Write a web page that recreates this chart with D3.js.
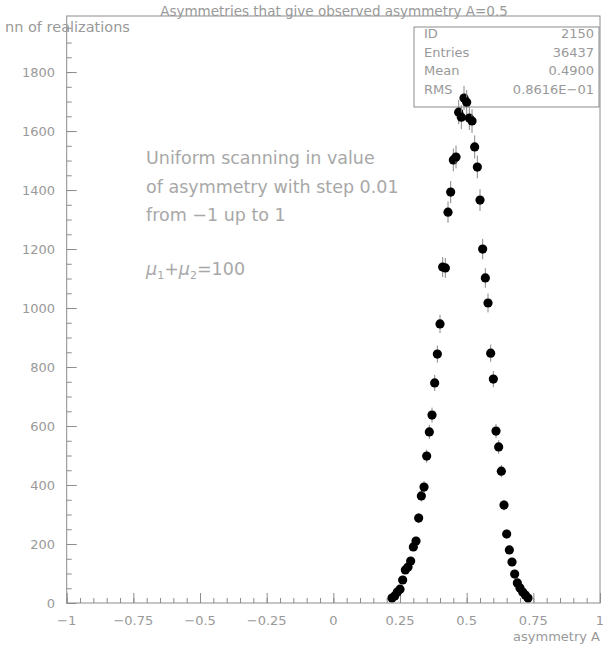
<!DOCTYPE html>
<html>
<head>
<meta charset="utf-8">
<script src="https://cdn.jsdelivr.net/npm/d3@7"></script>
<style>
  body { margin: 0; background: #fff; }
  text { font-family: "DejaVu Sans", sans-serif; fill: #999; }
</style>
</head>
<body>
<svg id="chart" width="603" height="645"></svg>
<script>
// scanned asymmetry values (bin positions) and number of realizations
const asym = [0.22, 0.23, 0.24, 0.25, 0.26, 0.27, 0.28, 0.29, 0.30, 0.31,
  0.32, 0.33, 0.34, 0.35, 0.36, 0.37, 0.38, 0.39, 0.40, 0.41,
  0.42, 0.43, 0.44, 0.45, 0.46, 0.47, 0.48, 0.49, 0.50, 0.51,
  0.52, 0.53, 0.54, 0.55, 0.56, 0.57, 0.58, 0.59, 0.60, 0.61,
  0.62, 0.63, 0.64, 0.65, 0.66, 0.67, 0.68, 0.69, 0.70, 0.71,
  0.72, 0.73];
const counts = [17, 24, 37, 47, 78, 112, 122, 142, 190, 210,
  288, 363, 393, 498, 580, 637, 746, 844, 946, 1139,
  1136, 1325, 1393, 1502, 1512, 1664, 1647, 1712, 1698, 1644,
  1634, 1546, 1478, 1366, 1200, 1102, 1017, 847, 759, 583,
  529, 447, 332, 234, 180, 139, 98, 68, 51, 37,
  27, 17];

const xTicks = [-1, -0.75, -0.5, -0.25, 0, 0.25, 0.5, 0.75, 1];
const xTickLabels = ["\u22121", "\u22120.75", "\u22120.5", "\u22120.25", "0", "0.25", "0.5", "0.75", "1"];
const yTicks = [0, 200, 400, 600, 800, 1000, 1200, 1400, 1600, 1800];

const statNames = ["ID", "Entries", "Mean", "RMS"];
const statValues = ["2150", "36437", "0.4900", "0.8616E\u221201"];

const noteLines = ["Uniform scanning in value", "of asymmetry with step 0.01", "from \u22121 up to 1"];

const svg = d3.select("#chart");
const axisColor = "#8c8c8c";

const x = d3.scaleLinear().domain([-1, 1]).range([66.7, 600]);
const y = d3.scaleLinear().domain([0, 1990]).range([603, 16]);

// frame
svg.append("rect")
  .attr("x", x(-1)).attr("y", y(1990))
  .attr("width", x(1) - x(-1)).attr("height", y(0) - y(1990))
  .attr("fill", "none").attr("stroke", axisColor).attr("stroke-width", 1);

// x axis ticks (inside, pointing up)
const gx = svg.append("g").attr("transform", `translate(0,${y(0)})`);
gx.call(d3.axisTop(x).tickValues(d3.range(-1, 1.0001, 0.05)).tickSize(5).tickFormat(""));
gx.append("g").call(d3.axisTop(x).tickValues(xTicks).tickSize(10).tickFormat(""));
gx.selectAll(".domain").remove();
gx.selectAll("line").attr("stroke", axisColor);
svg.append("g").selectAll("text").data(xTicks).join("text")
  .attr("x", d => x(d)).attr("y", 625)
  .attr("text-anchor", "middle").attr("font-size", 13)
  .text((d, i) => xTickLabels[i]);

// y axis ticks (inside, pointing right)
const gy = svg.append("g").attr("transform", `translate(${x(-1)},0)`);
gy.call(d3.axisRight(y).tickValues(d3.range(0, 1951, 50)).tickSize(5).tickFormat(""));
gy.append("g").call(d3.axisRight(y).tickValues(yTicks).tickSize(10).tickFormat(""));
gy.selectAll(".domain").remove();
gy.selectAll("line").attr("stroke", axisColor);
svg.append("g").selectAll("text").data(yTicks).join("text")
  .attr("x", 55).attr("y", d => y(d) + 5)
  .attr("text-anchor", "end").attr("font-size", 13)
  .text(d => d);

// titles
svg.append("text").attr("x", 334).attr("y", 16).attr("text-anchor", "middle")
  .attr("font-size", 13.5).text("Asymmetries that give observed asymmetry A=0.5");
svg.append("text").attr("x", 5).attr("y", 32).attr("font-size", 14.5)
  .text("nn of realizations");
svg.append("text").attr("x", 600).attr("y", 641).attr("text-anchor", "end")
  .attr("font-size", 13).text("asymmetry A");

// stats box
svg.append("rect").attr("x", 414).attr("y", 27).attr("width", 185).attr("height", 80)
  .attr("fill", "#fff").attr("stroke", axisColor);
const stats = svg.append("g");
stats.selectAll("text.n").data(statNames).join("text").attr("class", "n")
  .attr("x", 424).attr("y", (d, i) => 38 + i * 18.7).attr("font-size", 13).text(d => d);
stats.selectAll("text.v").data(statValues).join("text").attr("class", "v")
  .attr("x", 594).attr("y", (d, i) => 38 + i * 18.7).attr("text-anchor", "end")
  .attr("font-size", 13).text(d => d);

// annotation
svg.append("g").selectAll("text").data(noteLines).join("text")
  .attr("x", 146).attr("y", (d, i) => 164 + i * 28.7)
  .attr("font-size", 17.5).style("fill", "#a8a8a8").text(d => d);
const mu = svg.append("text").attr("x", 146).attr("y", 275).attr("font-size", 17.5).style("fill", "#a8a8a8");
mu.append("tspan").attr("font-style", "italic").text("\u03bc");
mu.append("tspan").attr("font-size", 11).attr("dy", 4).text("1");
mu.append("tspan").attr("dy", -4).text("+");
mu.append("tspan").attr("font-style", "italic").text("\u03bc");
mu.append("tspan").attr("font-size", 11).attr("dy", 4).text("2");
mu.append("tspan").attr("dy", -4).text("=100");

// points with error bars
const pts = svg.append("g").selectAll("g").data(asym).join("g");
pts.append("line")
  .attr("x1", d => x(d)).attr("x2", d => x(d))
  .attr("y1", (d, i) => y(counts[i] + Math.sqrt(counts[i])))
  .attr("y2", (d, i) => y(counts[i] - Math.sqrt(counts[i])))
  .attr("stroke", "#888").attr("stroke-width", 1);
pts.append("circle")
  .attr("cx", d => x(d)).attr("cy", (d, i) => y(counts[i]))
  .attr("r", 4.6).attr("fill", "#000");
</script>
</body>
</html>
